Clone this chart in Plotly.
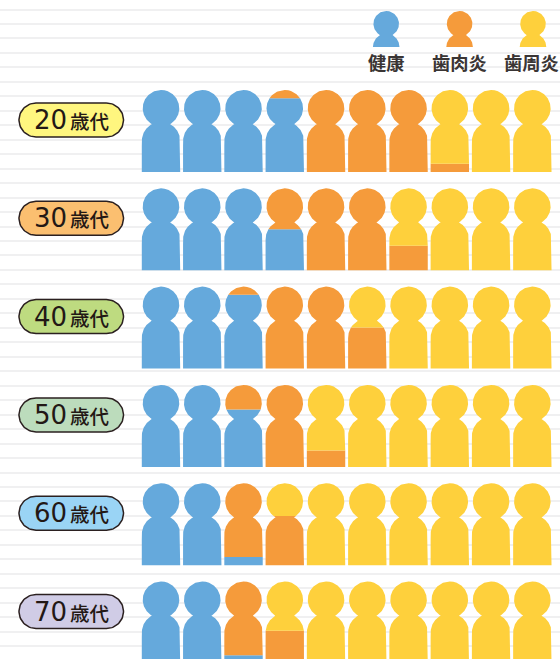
import numpy as np
import plotly.graph_objects as go

ages = ["20", "30", "40", "50", "60", "70"]
healthy = [39, 35, 29, 27, 21, 21]
gingivitis = [32, 28, 26, 15, 15, 13]
periodontitis = [29, 37, 45, 58, 64, 66]
series_names = ["健康", "歯肉炎", "歯周炎"]
series_colors = ["#65a9dc", "#f59b3b", "#fed03c"]
pill_colors = ["#fff67f", "#fbbf70", "#bedb80", "#bcdcbc", "#9ad4f5", "#d0cce6"]

W, H = 560, 659
X0, DX = 161.0, 41.26
Y0, DY = 90.0, 98.3
PH = 82.0


def half_width(y, hc, hr, bc, br):
    a = np.sqrt(np.clip(hr**2 - (y - hc) ** 2, 0, None))
    b = np.where(y >= bc, br, np.sqrt(np.clip(br**2 - (y - bc) ** 2, 0, None)))
    return np.maximum(a, b)


def band(cx, top, bottom, hc, hr, bc, br):
    y = np.linspace(top, bottom, max(int((bottom - top) * 3), 2))
    w = half_width(y, hc, hr, bc, br)
    xs = list(cx - w) + list((cx + w)[::-1]) + [None]
    ys = list(y) + list(y[::-1]) + [None]
    return xs, ys


buckets = [([], []) for _ in series_names]


def add(k, cx, top, bottom, hc, hr, bc, br):
    xs, ys = band(cx, top, bottom, hc, hr, bc, br)
    buckets[k][0].extend(xs)
    buckets[k][1].extend(ys)


for r in range(len(ages)):
    top = Y0 + r * DY
    bottom = top + PH
    c1 = healthy[r] / 10
    c2 = (healthy[r] + gingivitis[r]) / 10
    for i in range(10):
        cx = X0 + i * DX
        f1 = min(max(c1 - i, 0), 1)
        f2 = min(max(c2 - i, 0), 1)
        edges = [bottom, bottom - f1 * PH, bottom - f2 * PH, top]
        for k in range(3):
            if edges[k] - edges[k + 1] > 0.01:
                add(k, cx, edges[k + 1], edges[k], top + 18.3, 18.3, top + 51.0, 19.2)

legend_x = [386.2, 459.6, 533.0]
label_x = [386.2, 459.2, 531.5]
for k, cx in enumerate(legend_x):
    add(k, cx, 11, 47, 23.8, 12.8, 47, 13.3)

fig = go.Figure()
for k, name in enumerate(series_names):
    fig.add_trace(go.Scatter(x=buckets[k][0], y=buckets[k][1], name=name, mode="lines",
                             fill="toself", fillcolor=series_colors[k],
                             line=dict(width=0, color=series_colors[k]),
                             hoverinfo="skip", showlegend=False))


def pill(xl, xr, yc, hh):
    t = np.linspace(-np.pi / 2, np.pi / 2, 40)
    xs = list(xr - hh + hh * np.cos(t)) + list(xl + hh - hh * np.cos(t[::-1]))
    ys = list(yc + hh * np.sin(t)) + list(yc + hh * np.sin(t[::-1]))
    return xs + xs[:1], ys + ys[:1]


for r, a in enumerate(ages):
    yc = Y0 + r * DY + 30
    px, py = pill(19, 123.5, yc, 17)
    fig.add_trace(go.Scatter(x=px, y=py, mode="lines", fill="toself", fillcolor=pill_colors[r],
                             line=dict(color="#2b2020", width=1.5), hoverinfo="skip", showlegend=False))
    fig.add_annotation(x=50.5, y=yc, text=a, showarrow=False, xanchor="center", yanchor="middle",
                       font=dict(family="DejaVu Sans", size=26, color="#231815"))
    fig.add_annotation(x=89, y=yc + 0.5, text="歳代", showarrow=False, xanchor="center", yanchor="middle",
                       font=dict(family="Noto Sans CJK JP", size=19.5, color="#231815", weight=500))

for name, cx in zip(series_names, label_x):
    fig.add_annotation(x=cx, y=62, text=name, showarrow=False, xanchor="center", yanchor="middle",
                       font=dict(family="Noto Sans CJK JP", size=18.3, color="#3a3534", weight=700))

fig.update_layout(
    width=W, height=H, margin=dict(l=0, r=0, t=0, b=0),
    paper_bgcolor="white", plot_bgcolor="white", showlegend=False,
    xaxis=dict(range=[0, W], visible=False, fixedrange=True),
    yaxis=dict(range=[H, 0], showgrid=True, gridcolor="#f0f0f1", gridwidth=2, tick0=9.5, dtick=14.47,
               showticklabels=False, zeroline=False, ticks="", showline=False, fixedrange=True),
)
fig.write_html("out.html", config={"displayModeBar": False},
               post_script="document.body.style.margin='0';document.documentElement.style.overflow='hidden';")
